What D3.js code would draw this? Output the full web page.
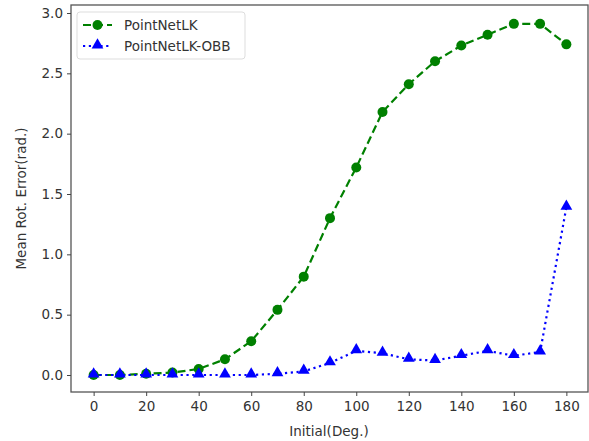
<!DOCTYPE html>
<html>
  <head>
    <meta charset="utf-8">
    <title>rot error</title>
    <style>
    body{margin:0;background:#fff}
    text{font-family:"DejaVu Sans",sans-serif}
    </style>
  </head>
  <body>
    <svg width="589" height="441"></svg>
    <script src="https://d3js.org/d3.v7.min.js"></script>
    <script>

    // initial angle (deg.)
    var angles = [0,10,20,30,40,50,60,70,80,90,100,110,120,130,140,150,160,170,180];
    var lk    = [0.0,0.0,0.01,0.02,0.05,0.13,0.28,0.54,0.815,1.30,1.72,2.18,2.41,2.60,2.73,2.82,2.91,2.91,2.74];
    var lkObb = [0.0,0.0,0.0,0.0,0.0,0.0,0.0,0.01,0.03,0.10,0.20,0.18,0.13,0.12,0.16,0.20,0.16,0.19,1.39];
    var xTicks = [0,20,40,60,80,100,120,140,160,180];
    var yTicks = [0,0.5,1.0,1.5,2.0,2.5,3.0];

    // plot box (not "top": that name is taken by window.top)
    var pL = 71, pR = 588, pT = 5, pB = 392;
    var fs = "13.5px";

    var svg = d3.select("svg");

    var x = d3.scaleLinear().domain([-9, 189]).range([pL - 1, pL + 519]);
    var y = d3.scaleLinear().domain([0, 3]).range([375, 13]);

    // frame
    svg.append("rect").attr("x", pL).attr("y", pT)
      .attr("width", pR - pL).attr("height", pB - pT)
      .attr("fill", "none").attr("stroke", "#555").attr("stroke-width", 1.3);

    // axes
    var gx = svg.append("g").attr("transform", "translate(0," + pB + ")")
      .call(d3.axisBottom(x).tickValues(xTicks).tickSize(4).tickPadding(5));
    var gy = svg.append("g").attr("transform", "translate(" + pL + ",0)")
      .call(d3.axisLeft(y).tickValues(yTicks).tickSize(4).tickPadding(4).tickFormat(d3.format(".1f")));
    [gx, gy].forEach(function(g) {
      g.select(".domain").remove();
      g.selectAll("line").attr("stroke", "#444");
      g.selectAll("text").attr("fill", "#333").style("font-size", fs).style("font-family", "DejaVu Sans");
    });

    svg.append("text").attr("x", 329).attr("y", 436)
      .attr("text-anchor", "middle").attr("fill", "#333").style("font-size", fs)
      .text("Initial(Deg.)");
    svg.append("text").attr("transform", "translate(26," + ((pT + pB) / 2) + ") rotate(-90)")
      .attr("text-anchor", "middle").attr("fill", "#333").style("font-size", fs)
      .text("Mean Rot. Error(rad.)");

    var line = d3.line().x(function(d) { return x(d[0]); }).y(function(d) { return y(d[1]); });
    var green = "#008000", blue = "#0000ff";
    var tri = d3.symbol().type(d3.symbolTriangle).size(60);

    var dLk = angles.map(function(a, i) { return [a, lk[i]]; });
    var dObb = angles.map(function(a, i) { return [a, lkObb[i]]; });

    svg.append("path").datum(dLk).attr("d", line).attr("fill", "none")
      .attr("stroke", green).attr("stroke-width", 2.2).attr("stroke-dasharray", "8,4");
    svg.append("g").selectAll("circle").data(dLk).enter().append("circle")
      .attr("cx", function(d) { return x(d[0]); }).attr("cy", function(d) { return y(d[1]); })
      .attr("r", 5).attr("fill", green);

    svg.append("path").datum(dObb).attr("d", line).attr("fill", "none")
      .attr("stroke", blue).attr("stroke-width", 2.2).attr("stroke-dasharray", "2.2,3.6");
    svg.append("g").selectAll("path").data(dObb).enter().append("path")
      .attr("d", tri).attr("fill", blue)
      .attr("transform", function(d) { return "translate(" + x(d[0]) + "," + (y(d[1]) - 1) + ")"; });

    // legend
    var lg = svg.append("g");
    lg.append("rect").attr("x", 77).attr("y", 12).attr("width", 168).attr("height", 47)
      .attr("rx", 3).attr("fill", "#fff").attr("stroke", "#ddd");
    lg.append("line").attr("x1", 83).attr("x2", 112).attr("y1", 25).attr("y2", 25)
      .attr("stroke", green).attr("stroke-width", 2.2).attr("stroke-dasharray", "8,4");
    lg.append("circle").attr("cx", 97.5).attr("cy", 25).attr("r", 5).attr("fill", green);
    lg.append("line").attr("x1", 83).attr("x2", 112).attr("y1", 46).attr("y2", 46)
      .attr("stroke", blue).attr("stroke-width", 2.2).attr("stroke-dasharray", "2.2,3.6");
    lg.append("path").attr("d", tri).attr("fill", blue).attr("transform", "translate(97.5,45)");
    lg.append("text").attr("x", 124).attr("y", 30).attr("fill", "#333").style("font-size", fs).text("PointNetLK");
    lg.append("text").attr("x", 124).attr("y", 51).attr("fill", "#333").style("font-size", fs).text("PointNetLK-OBB");

    </script>
  </body>
</html>
